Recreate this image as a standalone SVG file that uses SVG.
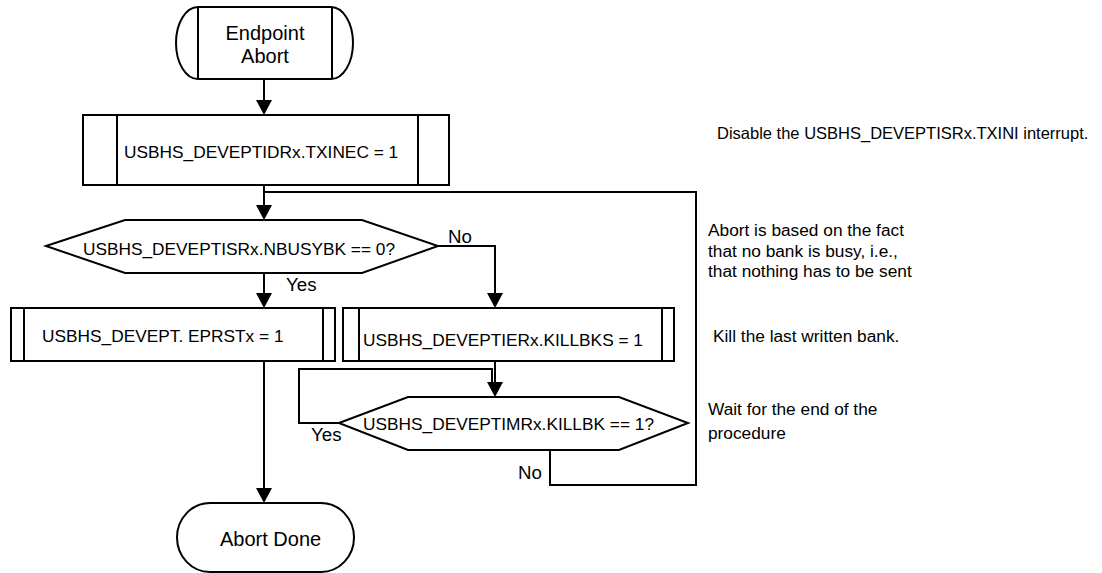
<svg xmlns="http://www.w3.org/2000/svg" width="1102" height="573" viewBox="0 0 1102 573">
<style>
.s{fill:#fff;stroke:#000;stroke-width:2}
.l{fill:none;stroke:#000;stroke-width:2}
.c{fill:none;stroke:#000;stroke-width:2}
text{font-family:"Liberation Sans",Arial,sans-serif;font-size:17.3px;fill:#000}
.m{text-anchor:middle}
.t{font-size:20px}
.y{font-size:18.7px}
</style>
<defs>
<marker id="ah" viewBox="0 0 15 16" refX="0" refY="8" markerWidth="15" markerHeight="16" markerUnits="userSpaceOnUse" orient="auto">
<path d="M0,0 L15,8 L0,16 Z" fill="#000"/>
</marker>
</defs>
<rect width="1102" height="573" fill="#fff"/>
<g id="connectors">
<path class="c" d="M264,79 V100" marker-end="url(#ah)"/>
<path class="c" d="M264,185 V205" marker-end="url(#ah)"/>
<path class="c" d="M264,273 V293" marker-end="url(#ah)"/>
<path class="c" d="M438,246 H495 V293" marker-end="url(#ah)"/>
<path class="c" d="M264,361 V488" marker-end="url(#ah)"/>
<path class="c" d="M495,361 V382" marker-end="url(#ah)"/>
<path class="c" d="M339,423 H299 V369 H492 V386"/>
<path class="c" d="M550,450 V485 H696 V192 H264"/>
</g>
<g id="start">
<rect class="s" x="176" y="7" width="177" height="72" rx="22" ry="36"/>
<path class="l" d="M198,7 V79 M332,7 V79"/>
<text class="m t" x="265" y="40">Endpoint</text>
<text class="m t" x="265" y="63">Abort</text>
</g>
<g id="txinec">
<rect class="s" x="83" y="115" width="366" height="70"/>
<path class="l" d="M117,115 V185 M418,115 V185"/>
<text x="124" y="158">USBHS_DEVEPTIDRx.TXINEC = 1</text>
</g>
<g id="nbusybk">
<polygon class="s" points="46,246 125,220 362,220 438,246 362,273 125,273"/>
<text class="m" x="239" y="255">USBHS_DEVEPTISRx.NBUSYBK == 0?</text>
<text class="y" x="448" y="243">No</text>
<text class="y" x="286" y="291">Yes</text>
</g>
<g id="eprst">
<rect class="s" x="11" y="308" width="324" height="53"/>
<path class="l" d="M24,308 V361 M323,308 V361"/>
<text x="42" y="342">USBHS_DEVEPT. EPRSTx = 1</text>
</g>
<g id="killbks">
<rect class="s" x="343" y="308" width="331" height="53"/>
<path class="l" d="M359,308 V361 M662,308 V361"/>
<text x="363" y="346">USBHS_DEVEPTIERx.KILLBKS = 1</text>
</g>
<g id="killbk">
<polygon class="s" points="339,423 408,397 619,397 688,423 619,450 408,450"/>
<text x="363" y="430">USBHS_DEVEPTIMRx.KILLBK == 1?</text>
<text class="y" x="311" y="441">Yes</text>
<text class="y" x="518" y="479">No</text>
</g>
<g id="done">
<rect class="s" x="177" y="503" width="177" height="69" rx="33" ry="34.5"/>
<text class="t" x="220" y="546">Abort Done</text>
</g>
<g id="notes">
<text x="717" y="139" style="font-size:16.5px">Disable the USBHS_DEVEPTISRx.TXINI interrupt.</text>
<text x="708" y="236">Abort is based on the fact</text>
<text x="708" y="257">that no bank is busy, i.e.,</text>
<text x="708" y="277">that nothing has to be sent</text>
<text x="713" y="342">Kill the last written bank.</text>
<text x="708" y="415">Wait for the end of the</text>
<text x="708" y="439">procedure</text>
</g>
</svg>
